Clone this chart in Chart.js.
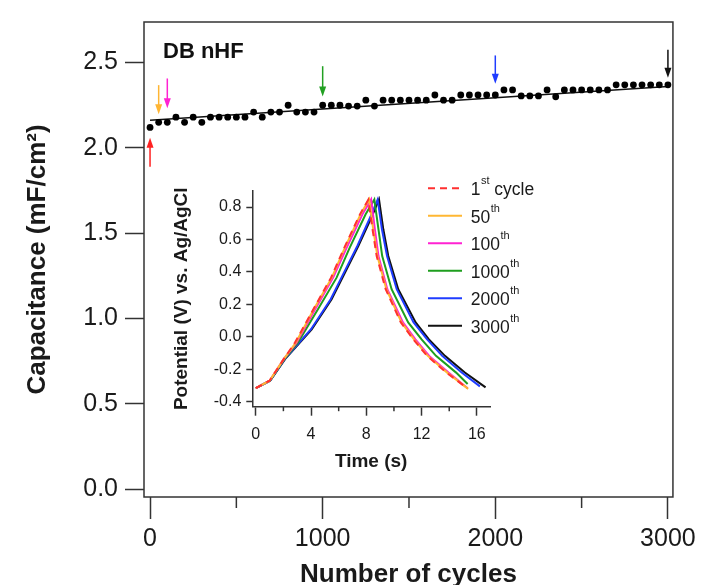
<!DOCTYPE html>
<html>
<head>
<meta charset="utf-8">
<script src="https://cdn.jsdelivr.net/npm/chart.js@4.4.1/dist/chart.umd.min.js"></script>
<style>
  body { margin: 0; background: #fff; }
  #wrap { position: relative; width: 701px; height: 585px; }
  #main { position: absolute; left: 0; top: 0; }
  #inset { position: absolute; left: 165px; top: 175px; }
</style>
</head>
<body>
<div id="wrap">
  <canvas id="main" width="701" height="585"></canvas>
  <canvas id="inset" width="440" height="310"></canvas>
</div>
<script>
// main panel: capacitance vs cycle number
const cycles = [0, 50, 100, 150, 200, 250, 300, 350, 400, 450, 500, 550, 600, 650, 700, 750, 800, 850, 900, 950,
    1000, 1050, 1100, 1150, 1200, 1250, 1300, 1350, 1400, 1450, 1500, 1550, 1600, 1650, 1700, 1750, 1800, 1850, 1900, 1950,
    2000, 2050, 2100, 2150, 2200, 2250, 2300, 2350, 2400, 2450, 2500, 2550, 2600, 2650, 2700, 2750, 2800, 2850, 2900, 2950, 3000];
const capacitance = [2.12, 2.15, 2.15, 2.18, 2.15, 2.18, 2.15, 2.18, 2.18, 2.18, 2.18, 2.18, 2.21, 2.18, 2.21, 2.21, 2.25, 2.21, 2.21, 2.21,
    2.25, 2.25, 2.25, 2.245, 2.245, 2.28, 2.245, 2.28, 2.28, 2.28, 2.28, 2.28, 2.28, 2.31, 2.28, 2.28, 2.31, 2.31, 2.31, 2.31,
    2.31, 2.34, 2.34, 2.305, 2.305, 2.305, 2.34, 2.30, 2.34, 2.34, 2.34, 2.34, 2.34, 2.34, 2.37, 2.37, 2.37, 2.37, 2.37, 2.37, 2.37];
const fitCycles = [0, 3000];
const fitCapacitance = [2.162, 2.36];
const cycleTicks = [0, 1000, 2000, 3000];
const cycleMinorTicks = [500, 1500, 2500];
const capTicks = [0, 0.5, 1.0, 1.5, 2.0, 2.5];

// arrows marking the cycles shown in the inset
const arrowCycles = [0, 50, 100, 1000, 2000, 3000];
const arrowTail = [1.89, 2.368, 2.407, 2.479, 2.542, 2.575];
const arrowTip = [2.059, 2.198, 2.233, 2.301, 2.376, 2.411];
const arrowColors = ['#ff2222', '#ffb533', '#ff22d2', '#22a022', '#1f3cff', '#111111'];

// inset: charge/discharge curves
const cycleNumbers = ['1', '50', '100', '1000', '2000', '3000'];
const cycleSuffix = ['st', 'th', 'th', 'th', 'th', 'th'];
const lineColors = ['#ff3030', '#ffb733', '#ff22d2', '#1e9e1e', '#1f3cff', '#111111'];

const t1st = [0, 1.0, 2.0, 2.84, 4.17, 5.45, 6.41, 7.54, 8.14, 8.45, 8.75, 9.4, 10.5, 11.4, 12.4, 13.8, 15.3];
const v1st = [-0.316, -0.27, -0.14, -0.035, 0.17, 0.365, 0.55, 0.755, 0.845, 0.663, 0.498, 0.294, 0.089, -0.015, -0.117, -0.22, -0.316];
const t50 = [0, 1.0, 2.0, 2.9, 4.2, 5.5, 6.45, 7.58, 8.2, 8.5, 8.8, 9.45, 10.55, 11.45, 12.45, 13.85, 15.37];
const v50 = [-0.316, -0.27, -0.14, -0.035, 0.17, 0.365, 0.55, 0.755, 0.847, 0.663, 0.498, 0.294, 0.089, -0.015, -0.117, -0.22, -0.32];
const t100 = [0, 1.0, 2.0, 2.95, 4.3, 5.6, 6.58, 7.72, 8.35, 8.62, 8.88, 9.52, 10.65, 11.55, 12.55, 13.95, 15.33];
const v100 = [-0.316, -0.27, -0.14, -0.035, 0.17, 0.365, 0.55, 0.755, 0.847, 0.663, 0.498, 0.294, 0.089, -0.015, -0.117, -0.22, -0.316];
const t1000 = [0, 1.03, 2.05, 3.05, 4.5, 5.85, 6.8, 7.95, 8.58, 8.88, 9.15, 9.83, 11.03, 12.0, 13.04, 14.5, 15.33];
const v1000 = [-0.316, -0.27, -0.14, -0.035, 0.17, 0.365, 0.55, 0.755, 0.847, 0.663, 0.498, 0.294, 0.089, -0.015, -0.117, -0.22, -0.29];
const t2000 = [0, 1.04, 2.1, 4.0, 5.42, 6.38, 7.35, 8.3, 8.82, 9.13, 9.5, 10.2, 11.42, 12.4, 13.49, 14.9, 16.22];
const v2000 = [-0.316, -0.27, -0.137, 0.047, 0.232, 0.396, 0.56, 0.74, 0.847, 0.663, 0.498, 0.294, 0.089, -0.015, -0.117, -0.219, -0.305];
const t3000 = [0, 1.04, 2.12, 4.05, 5.49, 6.46, 7.42, 8.39, 8.92, 9.23, 9.59, 10.31, 11.57, 12.53, 13.69, 15.13, 16.63];
const v3000 = [-0.316, -0.27, -0.137, 0.047, 0.232, 0.396, 0.56, 0.74, 0.847, 0.663, 0.498, 0.294, 0.089, -0.015, -0.117, -0.219, -0.311];

const timeTicks = [0, 4, 8, 12, 16];
const timeMinorTicks = [2, 6, 10, 14];
const potTicks = [-0.4, -0.2, 0, 0.2, 0.4, 0.6, 0.8];

const FONT = '"Liberation Sans", Arial, Helvetica, sans-serif';
Chart.defaults.font.family = FONT;
Chart.defaults.color = '#1a1a1a';

const toPoints = (xs, ys) => xs.map((x, i) => ({ x: x, y: ys[i] }));

// box, minor ticks, arrows and sample label on the main panel
const mainDecor = {
    id: 'mainDecor',
    afterDraw(chart) {
        const { ctx, chartArea: a, scales: { x, y } } = chart;
        ctx.save();
        ctx.strokeStyle = '#333';
        ctx.lineWidth = 1.5;
        ctx.strokeRect(a.left, a.top, a.right - a.left, a.bottom - a.top);

        cycleMinorTicks.forEach(v => {
            const px = x.getPixelForValue(v);
            ctx.beginPath();
            ctx.moveTo(px, a.bottom);
            ctx.lineTo(px, a.bottom + 11);
            ctx.stroke();
        });

        arrowCycles.forEach((c, i) => {
            const px = x.getPixelForValue(c);
            const y0 = y.getPixelForValue(arrowTail[i]);
            const y1 = y.getPixelForValue(arrowTip[i]);
            const dir = Math.sign(y1 - y0);
            ctx.strokeStyle = arrowColors[i];
            ctx.fillStyle = arrowColors[i];
            ctx.lineWidth = 1.5;
            ctx.beginPath();
            ctx.moveTo(px, y0);
            ctx.lineTo(px, y1 - dir * 8);
            ctx.stroke();
            ctx.beginPath();
            ctx.moveTo(px, y1);
            ctx.lineTo(px - 3.5, y1 - dir * 10);
            ctx.lineTo(px + 3.5, y1 - dir * 10);
            ctx.closePath();
            ctx.fill();
        });

        ctx.fillStyle = '#111';
        ctx.font = 'bold 22px ' + FONT;
        ctx.textBaseline = 'middle';
        ctx.fillText('DB nHF', x.getPixelForValue(75), y.getPixelForValue(2.564));
        ctx.restore();
    }
};

new Chart(document.getElementById('main'), {
    type: 'scatter',
    data: {
        datasets: [{
            data: toPoints(cycles, capacitance),
            pointRadius: 3.4,
            pointBorderWidth: 0,
            backgroundColor: '#000',
            borderColor: '#000'
        }, {
            data: toPoints(fitCycles, fitCapacitance),
            showLine: true,
            pointRadius: 0,
            borderColor: '#111',
            borderWidth: 1.5
        }]
    },
    options: {
        responsive: false,
        animation: false,
        layout: { padding: { top: 17, right: 28, left: 0, bottom: 0 } },
        plugins: { legend: { display: false }, tooltip: { enabled: false } },
        scales: {
            x: {
                type: 'linear',
                min: -35,
                max: 3029,
                afterFit: s => { s.height = 88; },
                afterBuildTicks: s => { s.ticks = cycleTicks.map(v => ({ value: v })); },
                border: { display: false },
                grid: { drawOnChartArea: false, tickLength: 22, tickWidth: 1.5, tickColor: '#333' },
                ticks: { font: { size: 25 }, padding: 5, callback: v => String(v) },
                title: { display: true, text: 'Number of cycles', font: { size: 26, weight: 'bold', lineHeight: 1.0 }, padding: { top: 0, bottom: -3 } }
            },
            y: {
                min: -0.046,
                max: 2.738,
                afterFit: s => { s.width = 144; },
                afterBuildTicks: s => { s.ticks = capTicks.map(v => ({ value: v })); },
                border: { display: false },
                grid: { drawOnChartArea: false, tickLength: 19, tickWidth: 1.5, tickColor: '#333' },
                ticks: { font: { size: 25 }, padding: 7, callback: v => v.toFixed(1) },
                title: { display: true, text: 'Capacitance (mF/cm²)', font: { size: 26, weight: 'bold' }, padding: { top: 22, bottom: 0 } }
            }
        }
    },
    plugins: [mainDecor]
});

// minor ticks and legend with superscripts for the inset
const insetDecor = {
    id: 'insetDecor',
    afterDraw(chart) {
        const { ctx, chartArea: a, scales: { x } } = chart;
        ctx.save();
        ctx.strokeStyle = '#333';
        ctx.lineWidth = 1.5;
        timeMinorTicks.forEach(v => {
            const px = x.getPixelForValue(v);
            ctx.beginPath();
            ctx.moveTo(px, a.bottom);
            ctx.lineTo(px, a.bottom + 4.5);
            ctx.stroke();
        });

        chart.data.datasets.forEach((ds, i) => {
            const row = 13.3 + i * 27.5;
            ctx.strokeStyle = ds.borderColor;
            ctx.lineWidth = 2;
            ctx.setLineDash(ds.borderDash || []);
            ctx.beginPath();
            ctx.moveTo(263, row);
            ctx.lineTo(297, row);
            ctx.stroke();
            ctx.setLineDash([]);

            ctx.fillStyle = '#1a1a1a';
            ctx.textBaseline = 'alphabetic';
            const base = row + 6.7;
            let tx = 305.7;
            ctx.font = '17.5px ' + FONT;
            ctx.fillText(cycleNumbers[i], tx, base);
            tx += ctx.measureText(cycleNumbers[i]).width + 0.5;
            ctx.font = '11px ' + FONT;
            ctx.fillText(cycleSuffix[i], tx, base - 11);
            tx += ctx.measureText(cycleSuffix[i]).width;
            if (i === 0) {
                ctx.font = '17.5px ' + FONT;
                ctx.fillText(' cycle', tx, base);
            }
        });
        ctx.restore();
    }
};

const insetTimes = [t1st, t50, t100, t1000, t2000, t3000];
const insetPots = [v1st, v50, v100, v1000, v2000, v3000];

new Chart(document.getElementById('inset'), {
    type: 'scatter',
    data: {
        datasets: insetTimes.map((ts, i) => ({
            data: toPoints(ts, insetPots[i]),
            showLine: true,
            pointRadius: 0,
            borderColor: lineColors[i],
            borderWidth: 2,
            borderDash: i === 0 ? [7, 5] : [],
            tension: 0
        }))
    },
    options: {
        responsive: false,
        animation: false,
        layout: { padding: { top: 15.8, right: 115, left: 0, bottom: 0 } },
        plugins: { legend: { display: false }, tooltip: { enabled: false } },
        scales: {
            x: {
                type: 'linear',
                min: -0.25,
                max: 16.95,
                afterFit: s => { s.height = 78.3; },
                afterBuildTicks: s => { s.ticks = timeTicks.map(v => ({ value: v })); },
                border: { display: true, color: '#333', width: 1.5 },
                grid: { drawOnChartArea: false, tickLength: 9, tickWidth: 1.5, tickColor: '#333' },
                ticks: { font: { size: 16 }, padding: 9, callback: v => String(v) },
                title: { display: true, text: 'Time (s)', font: { size: 19, weight: 'bold' }, padding: { top: 0, bottom: 12 } }
            },
            y: {
                min: -0.43,
                max: 0.9,
                afterFit: s => { s.width = 87.3; },
                afterBuildTicks: s => { s.ticks = potTicks.map(v => ({ value: v })); },
                border: { display: true, color: '#333', width: 1.5 },
                grid: { drawOnChartArea: false, tickLength: 6, tickWidth: 1.5, tickColor: '#333' },
                ticks: { font: { size: 16 }, padding: 5, callback: v => v.toFixed(1) },
                title: { display: true, text: 'Potential (V) vs. Ag/AgCl', font: { size: 19, weight: 'bold' }, padding: { top: 5, bottom: 0 } }
            }
        }
    },
    plugins: [insetDecor]
});
</script>
</body>
</html>
